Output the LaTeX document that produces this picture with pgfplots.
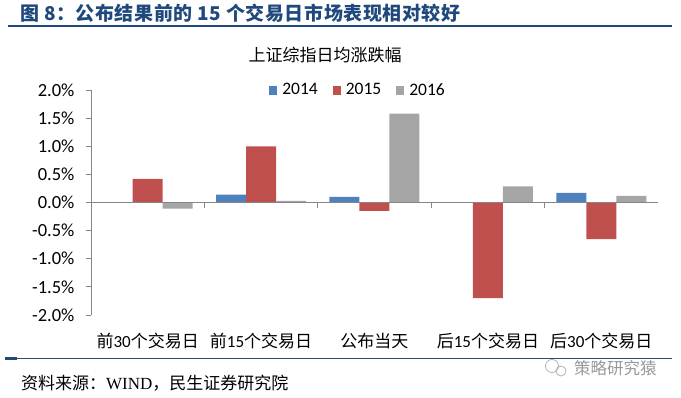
\documentclass[border=0pt]{standalone}
\usepackage{fontspec}
\usepackage{pgfplots}
\pgfplotsset{compat=1.18}
\setmainfont{Carlito}
\newfontfamily\cjk{Noto Sans CJK SC}
\newfontfamily\cjkt{Noto Sans CJK SC}[LetterSpace=3]
\newfontfamily\serifw{Liberation Serif}
\definecolor{c14}{HTML}{4F81BD}
\definecolor{c15}{HTML}{C0504D}
\definecolor{c16}{HTML}{A5A5A5}
\definecolor{axisgray}{HTML}{868686}
\definecolor{titleblue}{HTML}{1F497D}
\definecolor{linecol}{HTML}{2F4F6F}
\begin{document}
\begin{tikzpicture}[x=1pt,y=1pt]
\useasboundingbox (0,0) rectangle (681,-397);
\node[anchor=west, font=\cjkt\bfseries\fontsize{19}{19}\selectfont, text=titleblue, inner sep=0] at (20,-13) {图 8：公布结果前的 15 个交易日市场表现相对较好};
\draw[titleblue, line width=2.5pt] (8,-26) -- (672,-26);
\node[font=\cjk\fontsize{17}{17}\selectfont, inner sep=0] at (325,-55) {上证综指日均涨跌幅};
\begin{axis}[
  at={(91pt,-315pt)}, anchor=south west,
  scale only axis, width=567pt, height=225pt,
  xmin=-0.5, xmax=4.5, ymin=-2, ymax=2,
  axis x line*=bottom, axis y line*=left,
  x axis line style={draw=none},
  y axis line style={draw=axisgray, line width=0.8pt},
  xtick={0,1,2,3,4},
  xticklabels={{{\cjk 前}30{\cjk 个交易日}},{{\cjk 前}15{\cjk 个交易日}},{{\cjk 公布当天}},{{\cjk 后}15{\cjk 个交易日}},{{\cjk 后}30{\cjk 个交易日}}},
  xtick style={draw=none},
  xticklabel style={font=\fontsize{17}{17}\selectfont, yshift=-10pt},
  ytick={-2,-1.5,...,2},
  ytick style={draw=axisgray, line width=0.8pt},
  tick align=outside, major tick length=5pt,
  /pgf/number format/assume math mode=true,
  yticklabel={\pgfmathprintnumber[fixed,fixed zerofill,precision=1]{\tick}\%},
  yticklabel style={font=\fontsize{18.5}{18.5}\selectfont, xshift=-8pt},
  ybar=0pt, bar width=30pt,
  legend style={at={(0.471,1)}, anchor=center, draw=none, fill=none, legend columns=3,
    font=\fontsize{17.5}{17.5}\selectfont,
    /tikz/every even column/.append style={column sep=13pt}},
  legend image code/.code={\fill[#1,draw=none] (0pt,-4.5pt) rectangle (8pt,4.5pt); \path (11pt,0pt);},
]
\addplot[fill=c14, draw=none] coordinates {(1,0.14) (2,0.10) (4,0.17)};
\addplot[fill=c15, draw=none] coordinates {(0,0.42) (1,1.00) (2,-0.15) (3,-1.70) (4,-0.65)};
\addplot[fill=c16, draw=none] coordinates {(0,-0.11) (1,0.03) (2,1.58) (3,0.285) (4,0.12)};
\legend{2014,2015,2016}
\draw[axisgray, line width=0.8pt] (axis cs:-0.5,0) -- (axis cs:4.5,0);
\pgfplotsinvokeforeach{-0.5,0.5,1.5,2.5,3.5,4.5}{\draw[axisgray, line width=0.8pt] (axis cs:#1,0) -- ++(0pt,-5pt);}
\end{axis}
\draw[linecol, line width=1pt] (17,-358.5) -- (672,-358.5);
\draw[titleblue, line width=3pt] (5,-358.5) -- (17,-358.5);
\node[anchor=west, font=\fontsize{17}{17}\selectfont, inner sep=0] at (21,-383) {{\cjk 资料来源：}{\serifw WIND}{\cjk ，民生证券研究院}};
\draw[black!30, line width=0.8pt] (552,-366) circle (6.5pt);
\draw[black!30, line width=0.8pt] (561,-371) circle (5pt);
\node[anchor=west, text=black!40, font=\cjk\fontsize{16.5}{16.5}\selectfont, inner sep=0] at (574,-368) {策略研究猿};
\end{tikzpicture}
\end{document}
